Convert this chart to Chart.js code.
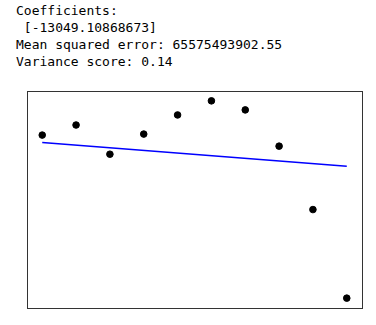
<!DOCTYPE html>
<html>
<head>
<meta charset="utf-8">
<script src="https://cdn.jsdelivr.net/npm/chart.js@4"></script>
<style>
    html, body { margin: 0; padding: 0; background: #fff; }
    #wrap { position: relative; width: 376px; height: 325px; overflow: hidden; }
    #output {
        position: absolute; left: 16px; top: 2px; margin: 0;
        font-family: "DejaVu Sans Mono", monospace; font-size: 13px; line-height: 17px;
        color: #000;
    }
    #chart { position: absolute; left: 0; top: 0; }
</style>
</head>
<body>
<div id="wrap">
<pre id="output">Coefficients:
 [-13049.10868673]
Mean squared error: 65575493902.55
Variance score: 0.14</pre>
<canvas id="chart" width="376" height="325"></canvas>
</div>
<script>
const xValues = [1, 2, 3, 4, 5, 6, 7, 8, 9, 10];
const testValues = [910000, 960000, 815000, 915000, 1010000, 1080000, 1035000, 855000, 540000, 100000];
const lineX = [1, 10];
const predictedValues = [872800, 755360];

const framePlugin = {
    id: "frame",
    afterDraw(chart) {
        const a = chart.chartArea;
        const ctx = chart.ctx;
        ctx.save();
        ctx.strokeStyle = "#333";
        ctx.lineWidth = 1;
        ctx.strokeRect(Math.round(a.left) + 0.5, Math.round(a.top) + 0.5,
            Math.round(a.right - a.left), Math.round(a.bottom - a.top));
        ctx.restore();
    }
};

const ctx = document.getElementById("chart").getContext("2d");
new Chart(ctx, {
    type: "scatter",
    data: {
        datasets: [
            {
                label: "test",
                data: xValues.map((x, i) => ({ x: x, y: testValues[i] })),
                backgroundColor: "#000",
                borderColor: "#000",
                pointRadius: 3.3,
                pointHoverRadius: 3.3
            },
            {
                label: "prediction",
                data: lineX.map((x, i) => ({ x: x, y: predictedValues[i] })),
                showLine: true,
                borderColor: "#0000ff",
                borderWidth: 1.6,
                pointRadius: 0,
                fill: false
            }
        ]
    },
    options: {
        responsive: false,
        animation: false,
        devicePixelRatio: 1,
        layout: { padding: { left: 27, right: 14, top: 91, bottom: 17 } },
        plugins: {
            legend: { display: false },
            tooltip: { enabled: false }
        },
        scales: {
            x: { type: "linear", min: 0.55, max: 10.45, display: false },
            y: { type: "linear", min: 51000, max: 1129000, display: false }
        }
    },
    plugins: [framePlugin]
});
</script>
</body>
</html>
